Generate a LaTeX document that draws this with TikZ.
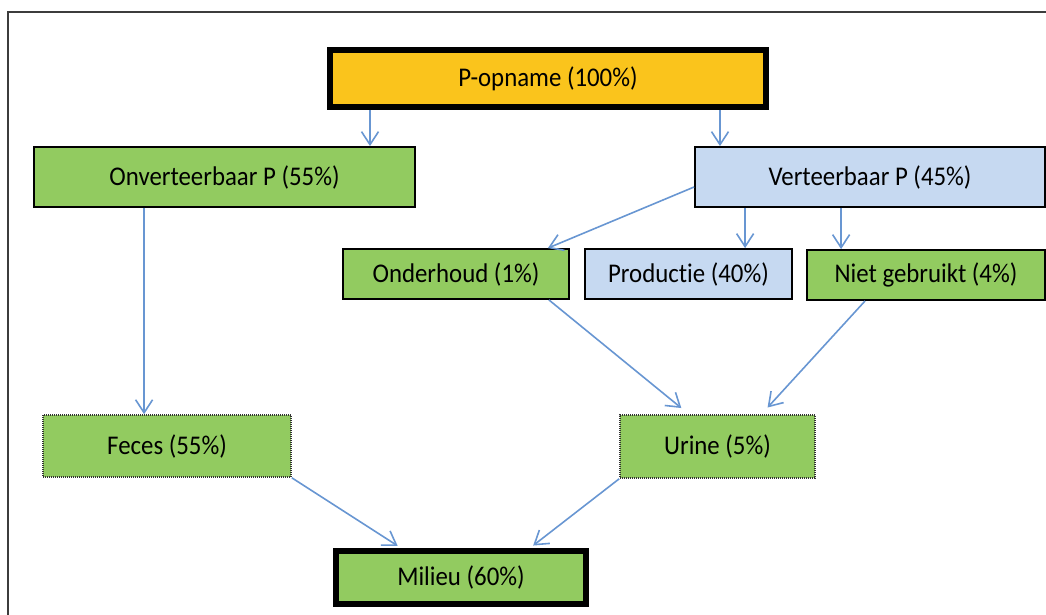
\documentclass[tikz,border=0pt]{standalone}
\usepackage{fontspec}
\setmainfont[Ligatures=NoCommon,FakeStretch=0.92]{Carlito}
\usetikzlibrary{arrows.meta,calc}
\definecolor{boxgreen}{RGB}{146,203,96}
\definecolor{boxblue}{RGB}{198,217,241}
\definecolor{boxyellow}{RGB}{250,196,28}
\definecolor{arrowblue}{RGB}{104,150,210}
\definecolor{framegray}{RGB}{60,60,60}
\tikzset{
  box/.style={draw=black, line width=1.8pt, minimum width=#1, inner sep=0pt, font=\fontsize{27}{32}\selectfont},
  greenbox/.style={box=#1, fill=boxgreen},
  bluebox/.style={box=#1, fill=boxblue},
  thickbox/.style={line width=6pt},
  dotbox/.style={draw=black!80, line width=1.6pt, dash pattern=on 1pt off 1pt},
  arr/.style={draw=arrowblue, line width=1.6pt, -{Straight Barb[length=13pt,width=17pt,line width=1.6pt]}},
  framestyle/.style={draw=framegray, line width=2pt}
}
\begin{document}
\begin{tikzpicture}[x=1pt,y=-1pt]
\useasboundingbox (0,0) rectangle (1046,615);
\coordinate (ftop) at (1046,12);
\coordinate (fcorner) at (8,12);
\coordinate (fbot) at (8,615);
\draw[framestyle] (ftop) -- (fcorner) -- (fbot);

\node[box=436pt, fill=boxyellow, thickbox, minimum height=57pt] (p) at (548,78.5) {P-opname (100\%)};
\node[greenbox=381pt, minimum height=60pt] (o) at (224.5,177) {Onverteerbaar P (55\%)};
\node[bluebox=350pt, minimum height=60pt] (v) at (870,177) {Verteerbaar P (45\%)};
\node[greenbox=226pt, minimum height=50pt] (ond) at (456,274) {Onderhoud (1\%)};
\node[bluebox=207pt, minimum height=50pt] (prod) at (688.5,274) {Productie (40\%)};
\node[greenbox=238pt, minimum height=50pt] (niet) at (926,275) {Niet gebruikt (4\%)};
\node[greenbox=248pt, dotbox, minimum height=62pt] (f) at (167,446) {Feces (55\%)};
\node[greenbox=195pt, dotbox, minimum height=63pt] (u) at (717.5,446.5) {Urine (5\%)};
\node[greenbox=250pt, thickbox, minimum height=53pt] (m) at (461,577.5) {Milieu (60\%)};

\draw[arr] ([xshift=43pt]p.south west) -- ([xshift=43pt]p.south west |- o.north);
\draw[arr] ([xshift=393pt]p.south west) -- ([xshift=393pt]p.south west |- v.north);
\draw[arr] ([xshift=111pt]o.south west) -- ([xshift=111pt]o.south west |- f.north);
\draw[arr] ([yshift=-10pt]v.west) -- ([xshift=-22pt]ond.north east);
\draw[arr] ([xshift=51pt]v.south west) -- ([xshift=51pt]v.south west |- prod.north);
\draw[arr] ([xshift=147pt]v.south west) -- ([xshift=147pt]v.south west |- niet.north);
\draw[arr, shorten >=5pt] ([xshift=-21pt]ond.south east) -- ([xshift=66pt,yshift=3pt]u.north west);
\draw[arr, shorten >=5pt] ([xshift=59pt]niet.south west) -- ([xshift=145pt,yshift=3pt]u.north west);
\draw[arr, shorten >=4pt] (f.south east) -- ([xshift=68pt]m.north west);
\draw[arr, shorten >=4pt] (u.south west) -- ([xshift=197pt]m.north west);
\end{tikzpicture}
\end{document}
